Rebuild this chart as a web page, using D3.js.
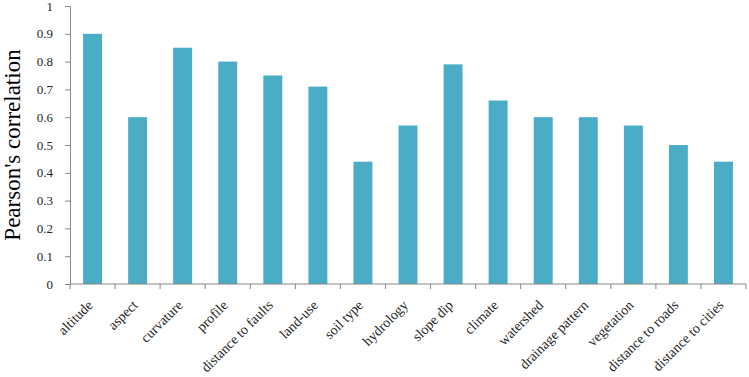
<!DOCTYPE html>
<html>
<head>
<meta charset="utf-8">
<script src="https://cdn.jsdelivr.net/npm/d3@7"></script>
<style>
  body { margin: 0; background: #fff; }
  text { font-family: "Liberation Serif", "Times New Roman", serif; }
</style>
</head>
<body>
<svg id="chart" width="749" height="377"></svg>
<script>
var factors = ["altitude", "aspect", "curvature", "profile", "distance to faults", "land-use",
    "soil type", "hydrology", "slope dip", "climate", "watershed", "drainage pattern",
    "vegetation", "distance to roads", "distance to cities"];
var correlation = [0.9, 0.6, 0.85, 0.8, 0.75, 0.71, 0.44, 0.57, 0.79, 0.66, 0.6, 0.6, 0.57, 0.5, 0.44];
var yTicks = [0, 0.1, 0.2, 0.3, 0.4, 0.5, 0.6, 0.7, 0.8, 0.9, 1];

var svg = d3.select("#chart"),
    margin = {top: 6, right: 3, bottom: 93, left: 70},
    width = +svg.attr("width") - margin.left - margin.right,
    height = +svg.attr("height") - margin.top - margin.bottom,
    group = svg.append("g").attr("transform", "translate(" + margin.left + "," + margin.top + ")");

var xscale = d3.scaleBand()
    .domain(factors)
    .range([0, width])
    .paddingInner(0.58)
    .paddingOuter(0.29);

var yscale = d3.scaleLinear()
    .domain([0, 1])
    .range([height, 0]);

// bars
group.append("g")
    .selectAll("rect")
    .data(factors)
    .enter().append("rect")
    .attr("x", function(d) { return xscale(d); })
    .attr("y", function(d, i) { return yscale(correlation[i]); })
    .attr("width", xscale.bandwidth())
    .attr("height", function(d, i) { return yscale(0) - yscale(correlation[i]); })
    .attr("fill", "#4BACC6");

// y axis
var yAxis = group.append("g")
    .attr("class", "y_axis")
    .call(d3.axisLeft(yscale).tickValues(yTicks).tickSize(5).tickPadding(12)
        .tickFormat(function(d) { return d === 0 || d === 1 ? d : d3.format(".1f")(d); }));
yAxis.select(".domain").attr("stroke", "#868686");
yAxis.selectAll(".tick line").attr("stroke", "#868686");
yAxis.selectAll(".tick text").attr("font-size", 13).attr("fill", "#262626")
    .attr("font-family", "Liberation Serif");

// x axis: ticks at category boundaries
var step = xscale.step();
var xAxis = group.append("g")
    .attr("class", "x_axis")
    .attr("transform", "translate(0," + height + ")");
xAxis.append("line")
    .attr("x1", 0).attr("x2", width)
    .attr("stroke", "#868686");
xAxis.selectAll(".xt")
    .data(d3.range(factors.length + 1))
    .enter().append("line")
    .attr("class", "xt")
    .attr("x1", function(i) { return i * step; })
    .attr("x2", function(i) { return i * step; })
    .attr("y1", 0).attr("y2", 5)
    .attr("stroke", "#868686");
xAxis.selectAll("text")
    .data(factors)
    .enter().append("text")
    .attr("transform", function(d) {
        return "translate(" + (xscale(d) + xscale.bandwidth() / 2 + 1) + ",22) rotate(-45)";
    })
    .attr("text-anchor", "end")
    .attr("font-size", 14)
    .attr("fill", "#262626")
    .text(function(d) { return d; });

// y label
svg.append("text")
    .attr("transform", "translate(20," + (margin.top + height / 2) + ") rotate(-90)")
    .attr("text-anchor", "middle")
    .attr("font-size", 23)
    .attr("fill", "#000")
    .text("Pearson's correlation");
</script>
</body>
</html>
